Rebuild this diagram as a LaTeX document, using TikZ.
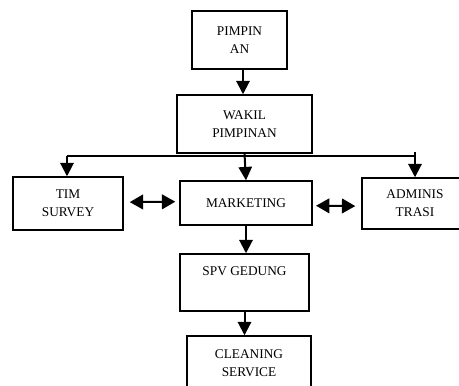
\documentclass[tikz,border=0pt]{standalone}
\usepackage{fontspec}
\setmainfont{Liberation Serif}
\usepackage{tikz}
\usetikzlibrary{positioning,arrows.meta}

\tikzset{
  jabatan/.style={draw, line width=1.1pt, align=center, inner sep=0pt, font=\fontsize{10}{13.5}\selectfont},
  panah/.style={line width=1.5pt, -{Triangle[width=10pt,length=10pt]}},
  duapanah/.style={line width=1.5pt, {Triangle[width=11pt,length=10pt]}-{Triangle[width=11pt,length=10pt]}}
}

\begin{document}
\begin{tikzpicture}[x=0.75pt,y=-0.75pt]
        \clip (0,0) rectangle (459,385);
        \useasboundingbox (0,0) rectangle (459,385);
        \node[jabatan,minimum width=95*0.75pt,minimum height=58*0.75pt] at (239.5,40) (a3f1c2d0) {PIMPIN\\AN};
        \node[jabatan,minimum width=135*0.75pt,minimum height=58*0.75pt] at (244.5,124) (5b7e09a4) {WAKIL\\PIMPINAN};
        \node[jabatan,minimum width=110*0.75pt,minimum height=53*0.75pt] at (68,203.5) (c81d4e6f) {TIM\\SURVEY};
        \node[jabatan,minimum width=132*0.75pt,minimum height=44*0.75pt] at (246,203) (e2094b7a) {MARKETING};
        \node[jabatan,minimum width=106*0.75pt,minimum height=51*0.75pt] at (415,203.5) (7fd3a615) {ADMINIS\\TRASI};
        \node[jabatan,minimum width=129*0.75pt,minimum height=57*0.75pt] at (244.5,282.5) (0b6c8e39) {SPV GEDUNG\\ \strut};
        \node[jabatan,minimum width=124*0.75pt,minimum height=54*0.75pt] at (249,363) (94ae27c1) {CLEANING\\SERVICE};
        \coordinate (d41f8a02) at (67,156);
        \coordinate (36c9b5e8) at (415,156);
        \coordinate (f05e7d13) at (243,69);
        \draw[line width=1.5pt] (d41f8a02) -- (36c9b5e8);
        \draw[line width=1.5pt] (36c9b5e8) -- ++(0,-4);
        \path[panah]
        (f05e7d13) edge (f05e7d13 |- 5b7e09a4.north)
        (5b7e09a4.south) edge (e2094b7a.north)
        (d41f8a02) edge (d41f8a02 |- c81d4e6f.north)
        (36c9b5e8) edge (36c9b5e8 |- 7fd3a615.north)
        (e2094b7a.south) edge (e2094b7a.south |- 0b6c8e39.north)
        (0b6c8e39.south) edge (0b6c8e39.south |- 94ae27c1.north)
        ;
        \path[duapanah]
        ([yshift=1pt]c81d4e6f.east) edge [shorten <=4.5pt, shorten >=3pt] ([yshift=1pt]e2094b7a.west)
        ([yshift=-2pt]e2094b7a.east) edge [shorten <=2.5pt, shorten >=4.5pt] ([yshift=-2pt]7fd3a615.west)
        ;
    \end{tikzpicture}
\end{document}
